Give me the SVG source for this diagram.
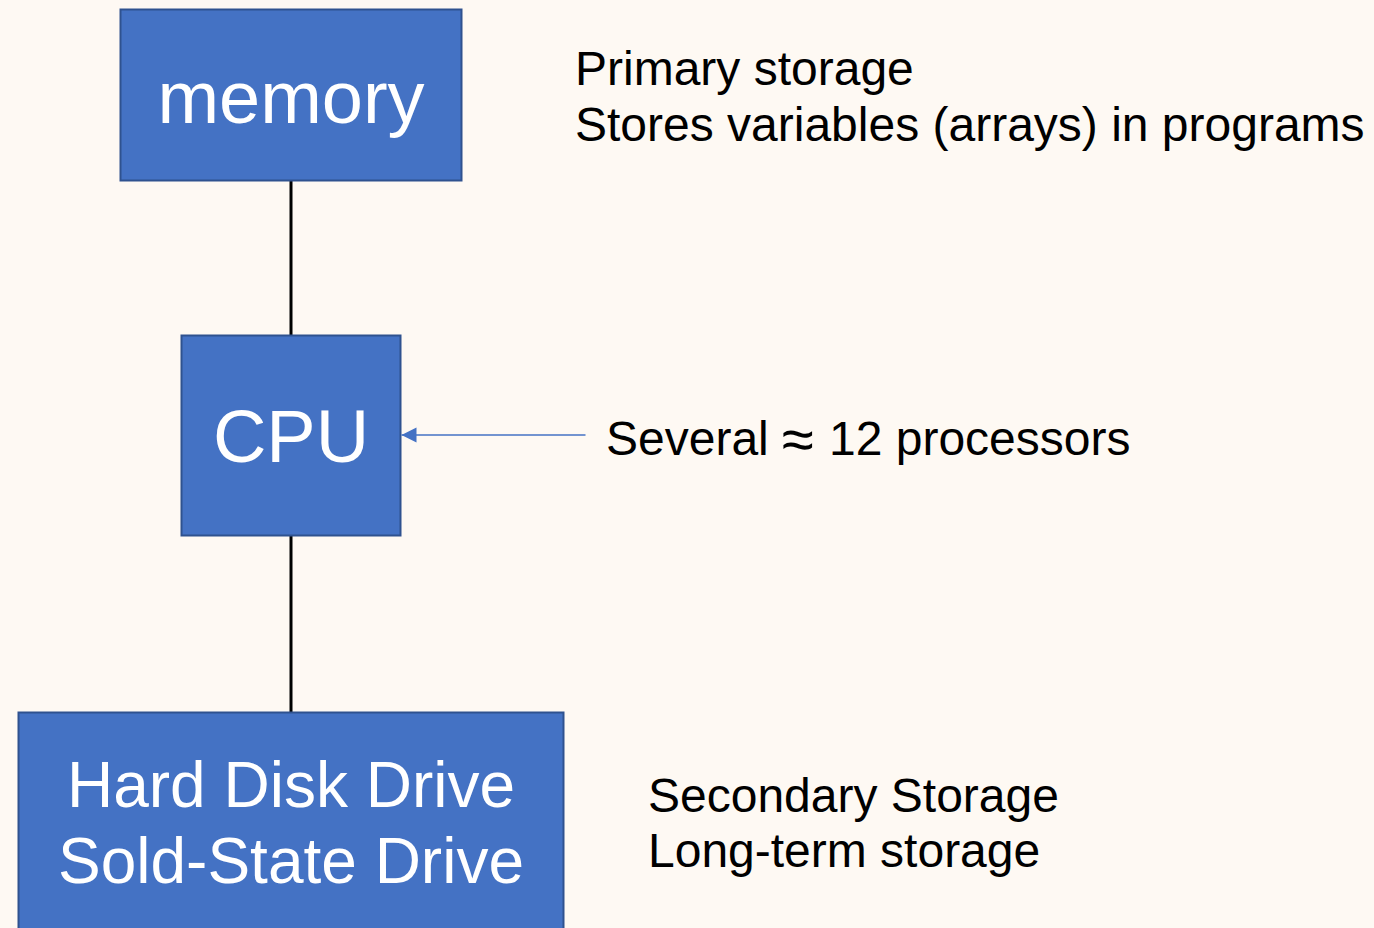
<svg xmlns="http://www.w3.org/2000/svg" width="1374" height="928" viewBox="0 0 1374 928">
<defs>
<style>
.box{fill:#4472C4;stroke:#2F528F;stroke-width:2}
.lbl{font-family:"Liberation Sans",Arial,sans-serif;fill:#FFFFFF;text-anchor:middle}
.note{font-family:"Liberation Sans",Arial,sans-serif;fill:#000000;font-size:48px}
.link{stroke:#000000;stroke-width:3;fill:none}
.ptr{stroke:#4472C4;stroke-width:1.3;fill:none}
</style>
<marker id="ah" markerUnits="userSpaceOnUse" markerWidth="16" markerHeight="16" refX="15" refY="7.5" orient="auto">
<path d="M15,7.5 L0,0 L0,15 Z" fill="#4472C4"/>
</marker>
</defs>
<rect width="1374" height="928" fill="#FEF9F3"/>
<g id="connectors">
<line class="link" x1="291" y1="181" x2="291" y2="335"/>
<line class="link" x1="291" y1="535" x2="291" y2="712"/>
</g>
<g id="memory">
<rect class="box" x="120.5" y="9.5" width="341" height="171"/>
<text class="lbl" x="291" y="123" font-size="74">memory</text>
</g>
<g id="cpu">
<rect class="box" x="181.5" y="335.5" width="219" height="200"/>
<text class="lbl" x="291" y="462" font-size="74">CPU</text>
</g>
<g id="storage">
<rect class="box" x="18.5" y="712.5" width="545" height="220"/>
<text class="lbl" x="291" y="807" font-size="64">Hard Disk Drive</text>
<text class="lbl" x="291" y="883" font-size="64">Sold-State Drive</text>
</g>
<g id="pointer">
<line class="ptr" x1="585.5" y1="435" x2="401.5" y2="435" marker-end="url(#ah)"/>
</g>
<g id="notes">
<text class="note" x="575" y="85">Primary storage</text>
<text class="note" x="575" y="141">Stores variables (arrays) in programs</text>
<text class="note" x="606" y="455">Several <tspan x="782" y="459" font-size="58">≈</tspan><tspan x="829" y="455">12 processors</tspan></text>
<text class="note" x="648" y="812">Secondary Storage</text>
<text class="note" x="648" y="867">Long-term storage</text>
</g>
</svg>
